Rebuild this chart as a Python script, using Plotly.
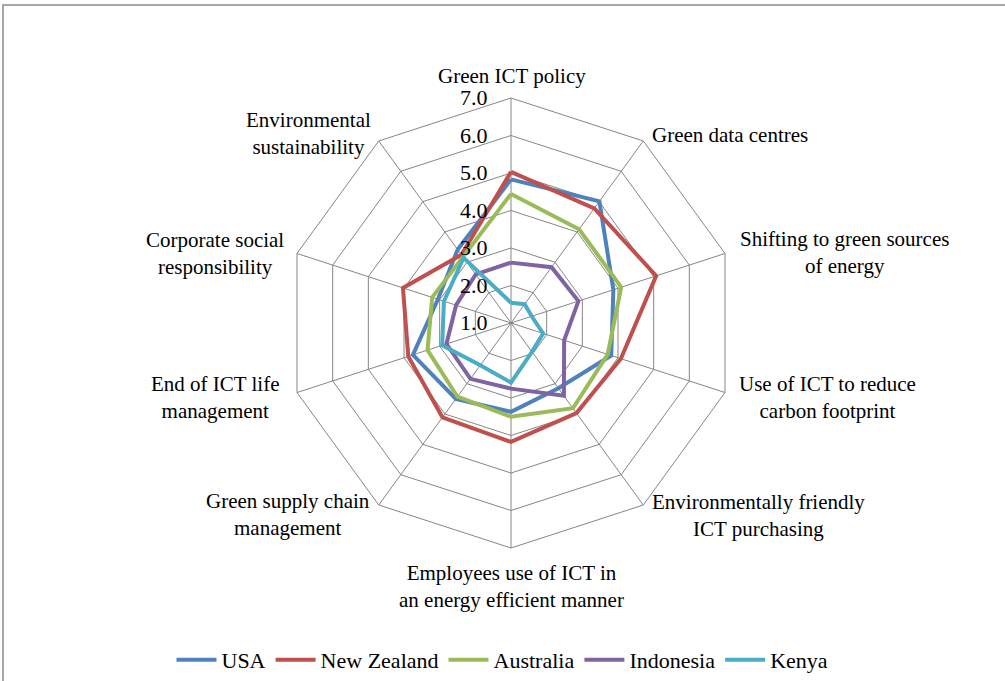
import plotly.graph_objects as go

# Achsen im Uhrzeigersinn, oben beginnend
categories = [
    "Green ICT policy",
    "Green data centres",
    "Shifting to green sources<br>of energy",
    "Use of ICT to reduce<br>carbon footprint",
    "Environmentally friendly<br>ICT purchasing",
    "Employees use of ICT in<br>an energy efficient manner",
    "Green supply chain<br>management",
    "End of ICT life<br>management",
    "Corporate social<br>responsibility",
    "Environmental<br>sustainability",
]

usa = [4.83, 5.01, 3.87, 3.81, 3.15, 3.37, 3.50, 3.75, 3.05, 3.42]
new_zealand = [5.03, 4.78, 5.07, 4.08, 3.97, 4.17, 4.11, 3.88, 4.03, 3.25]
australia = [4.44, 4.09, 4.09, 3.71, 3.81, 3.50, 3.43, 3.34, 3.21, 3.18]
indonesia = [2.61, 2.84, 2.89, 2.49, 3.40, 2.75, 2.84, 2.81, 2.54, 2.60]
kenya = [1.54, 1.62, 1.58, 1.90, 1.95, 2.59, 2.39, 2.93, 2.88, 3.15]

series = [
    ("USA", usa, "#4F81BD"),
    ("New Zealand", new_zealand, "#C0504D"),
    ("Australia", australia, "#9BBB59"),
    ("Indonesia", indonesia, "#8064A2"),
    ("Kenya", kenya, "#4BACC6"),
]

# Lage der Achsenbeschriftungen (Pixel, Mitte des Textblocks)
label_pos = [(512, 76), (730, 135), (844, 252), (827, 397), (758, 515),
             (511, 586), (288, 514), (215, 397), (215, 253), (308, 134)]

FONT = "Liberation Serif, Times New Roman, serif"
GRID = "#868686"
W, H = 1005, 681
cx, cy, R = 511, 323, 225

fig = go.Figure()
for name, vals, col in series:
    fig.add_trace(go.Scatterpolar(
        r=vals + vals[:1], theta=categories + categories[:1],
        mode="lines", name=name, line=dict(color=col, width=4),
    ))

for text, (px_, py_) in zip(categories, label_pos):
    fig.add_annotation(text=text, xref="paper", yref="paper",
                       x=px_ / W, y=1 - py_ / H, xanchor="center",
                       yanchor="middle", align="center", showarrow=False,
                       font=dict(family=FONT, size=21, color="black"))

fig.update_layout(
    width=W, height=H,
    margin=dict(l=0, r=0, t=0, b=0),
    paper_bgcolor="white",
    font=dict(family=FONT, size=21, color="black"),
    polar=dict(
        domain=dict(x=[(cx - R) / W, (cx + R) / W],
                    y=[(H - cy - R) / H, (H - cy + R) / H]),
        bgcolor="white",
        gridshape="linear",
        radialaxis=dict(range=[1, 7], dtick=1, tickformat=".1f",
                        ticksuffix="\u2002\u2009\u2009",
                        gridcolor=GRID, gridwidth=1, showline=False,
                        ticks="", angle=90, tickangle=90,
                        side="counterclockwise",
                        tickfont=dict(family=FONT, size=22)),
        angularaxis=dict(rotation=90, direction="clockwise",
                         gridcolor=GRID, gridwidth=1,
                         linecolor=GRID, linewidth=1, ticks="",
                         showticklabels=False),
    ),
    legend=dict(orientation="h", x=0.5, xanchor="center", y=0.0,
                yanchor="bottom", font=dict(family=FONT, size=22),
                itemwidth=40, tracegroupgap=0),
    shapes=[dict(type="rect", xref="paper", yref="paper",
                 x0=3 / W, x1=1.05, y0=-0.05, y1=1 - 5 / H,
                 line=dict(color="#8c8c8c", width=1.5))],
)

fig.write_html("out.html", config={"displayModeBar": False},
               post_script="document.body.style.margin='0';")
